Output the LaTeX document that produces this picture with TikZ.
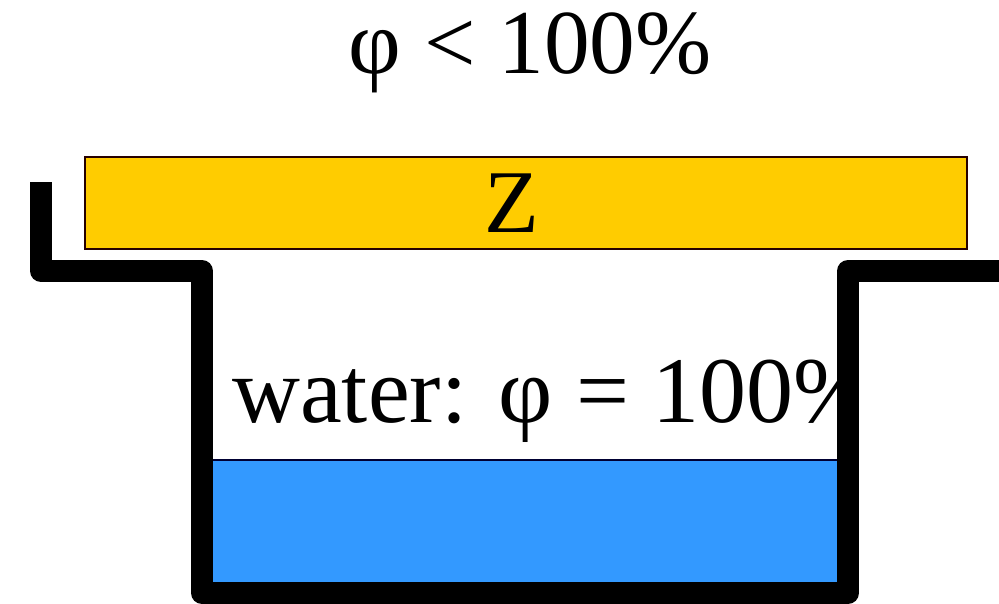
\documentclass[tikz,border=0pt]{standalone}
\usepackage{fontspec}
\setmainfont{Liberation Serif}
\definecolor{lidyellow}{RGB}{255,204,0}
\definecolor{waterblue}{RGB}{51,153,255}
\tikzset{
    lidbox/.style={draw=black!85!red, fill=lidyellow, line width=1.5pt, minimum width=17.64cm, minimum height=1.84cm, inner sep=0pt},
    wallline/.style={line width=12.5pt, line join=round},
    bigtext/.style={font=\fontsize{52}{60}\selectfont, inner sep=0pt}
}
\begin{document}
\begin{tikzpicture}[x=0.02cm, y=-0.02cm]
  \path[use as bounding box] (0,0) rectangle (999,603);
  % outside air
  \node[bigtext, anchor=base] (air) at (530,73) {φ < 100\%};
  % salt lid
  \node[lidbox] (lid) at (526,203) {\fontsize{51}{60}\selectfont Z\kern0.56cm};
  % water in the cup
  \fill[waterblue] (202,459) rectangle (848,593);
  \draw[line width=1pt, black!80!blue] (202,460) -- (848,460);
  \begin{scope}
    \clip (202,280) rectangle (848,459);
    \node[bigtext, font=\fontsize{53.5}{60}\selectfont, anchor=base west] (water) at (232,422) {water: φ = 100\%};
  \end{scope}
  % cup wall drawn last, over the text
  \draw[wallline] (41,182) -- (41,271) -- (202,271) -- (202,593)
        -- (848,593) -- (848,271) -- (1005,271);
\end{tikzpicture}
\end{document}
